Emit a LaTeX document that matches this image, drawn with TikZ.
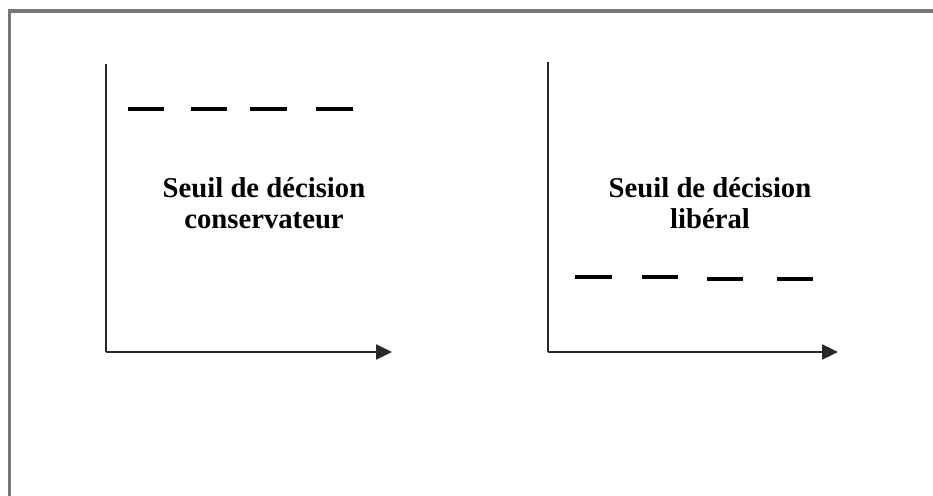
\documentclass[tikz,border=0pt]{standalone}
\usepackage{fontspec}
\setmainfont{Liberation Serif}
\usepackage{xcolor}
\usetikzlibrary{arrows.meta}

\definecolor{framegray}{RGB}{120,120,120}
\definecolor{axisgray}{RGB}{40,40,40}

\tikzset{
  axis/.style={line width=2pt, draw=axisgray},
  seuil/.style={line width=3.2pt, black},
  titre/.style={align=center, font=\bfseries\fontsize{24.5}{26.5}\selectfont}
}

\begin{document}
\begin{tikzpicture}[x=0.03cm,y=0.03cm,>={Triangle[length=0.48cm,width=0.45cm]}]

\useasboundingbox (0,0) rectangle (933,495);

% Frame
\begin{scope}
\clip (0,0) rectangle (933,495);
\draw[framegray, line width=2.8pt] (9.5,-20) -- (9.5,484) -- (960,484);
\end{scope}

% Axes (left panel)
\coordinate (o1) at (106,143);
\coordinate (y1) at (106,431);
\coordinate (x1) at (392,143);
\draw[axis] (y1) -- (o1);
\draw[axis,->] (o1) -- (x1);

% Axes (right panel)
\coordinate (o2) at (548,143);
\coordinate (y2) at (548,433);
\coordinate (x2) at (838,143);
\draw[axis] (y2) -- (o2);
\draw[axis,->] (o2) -- (x2);

% Thresholds
\foreach \a/\b in {128/164, 191/227, 250/287, 316/353}
  \draw[seuil] (\a,386) -- (\b,386);
\foreach \a/\b/\h in {575/612/218, 642/678/218, 707/743/216, 777/813/216}
  \draw[seuil] (\a,\h) -- (\b,\h);

% Labels
\node[titre] (cons) at (264,291.5) {Seuil de décision\\conservateur};
\node[titre] (lib) at (710,291.5) {Seuil de décision\\libéral};

\end{tikzpicture}
\end{document}
